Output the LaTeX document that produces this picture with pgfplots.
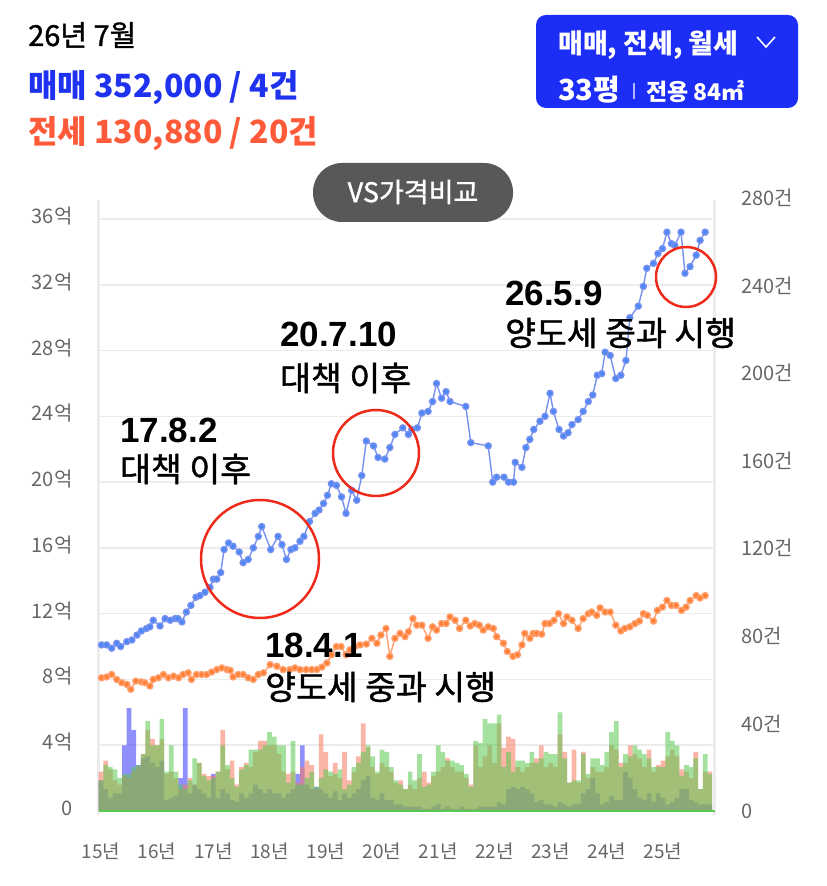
\documentclass[border=0pt]{standalone}
\usepackage{pgfplots}
\pgfplotsset{compat=1.18}
\usepackage{pgfplotstable}
\usepackage{fontspec}
\setmainfont{Noto Sans CJK KR}
\newfontfamily\kormed{Noto Sans CJK KR}[FakeBold=1.2]
\newfontfamily\numfont{Liberation Sans}
\definecolor{ttblue}{RGB}{31,50,240}
\definecolor{ttorange}{RGB}{255,91,59}
\definecolor{boxblue}{RGB}{28,45,245}
\definecolor{pillgray}{RGB}{88,88,88}
\definecolor{tickgray}{RGB}{102,102,102}
\definecolor{gridgray}{RGB}{236,236,236}
\definecolor{saleline}{RGB}{120,145,240}
\definecolor{salemark}{RGB}{75,135,245}
\definecolor{rentline}{RGB}{255,160,112}
\definecolor{rentmark}{RGB}{255,128,51}
\definecolor{barblue}{RGB}{70,70,250}
\definecolor{barsalmon}{RGB}{245,120,95}
\definecolor{bargreen}{RGB}{90,200,80}
\definecolor{circred}{RGB}{238,42,26}

\pgfplotstableread{
x v
2015.01 10.1
2015.10 10.1
2015.19 9.9
2015.28 10.2
2015.35 10.0
2015.46 10.3
2015.55 10.4
2015.64 10.7
2015.72 10.95
2015.81 11.1
2015.87 11.2
2015.93 11.6
2016.05 11.25
2016.14 11.7
2016.23 11.6
2016.32 11.7
2016.37 11.7
2016.44 11.5
2016.52 12.1
2016.60 12.5
2016.69 13.0
2016.76 13.1
2016.85 13.3
2016.94 13.6
2017.00 14.1
2017.06 14.1
2017.13 14.5
2017.19 15.9
2017.27 16.3
2017.35 16.1
2017.46 15.75
2017.53 15.1
2017.62 15.3
2017.71 16.0
2017.80 16.7
2017.86 17.3
2018.02 15.9
2018.15 16.7
2018.22 16.2
2018.30 15.3
2018.38 15.9
2018.45 16.0
2018.54 16.4
2018.61 16.7
2018.71 17.6
2018.81 18.1
2018.88 18.3
2018.96 18.7
2019.03 19.2
2019.10 19.9
2019.19 19.8
2019.28 19.1
2019.36 18.1
2019.46 19.5
2019.55 18.9
2019.64 20.4
2019.72 22.5
2019.85 22.2
2019.93 21.5
2020.05 21.4
2020.14 22.1
2020.23 22.9
2020.37 23.3
2020.47 22.9
2020.53 23.2
2020.63 23.3
2020.71 24.2
2020.82 24.3
2020.90 24.9
2020.97 26.0
2021.06 25.1
2021.14 25.5
2021.21 24.9
2021.49 24.6
2021.58 22.4
2021.89 22.2
2021.97 20.0
2022.04 20.3
2022.17 20.3
2022.25 20.0
2022.34 20.0
2022.37 21.2
2022.49 20.9
2022.56 22.1
2022.63 22.6
2022.70 23.2
2022.81 23.7
2022.90 24.0
2022.99 25.4
2023.05 24.3
2023.15 23.2
2023.23 22.8
2023.31 23.0
2023.38 23.5
2023.49 23.8
2023.58 24.3
2023.67 24.9
2023.75 25.3
2023.83 26.5
2023.91 26.6
2023.97 27.9
2024.06 27.7
2024.16 26.3
2024.25 26.5
2024.34 27.4
2024.41 30.0
2024.56 30.7
2024.65 31.9
2024.71 33.0
2024.83 33.3
2024.91 33.9
2024.99 34.2
2025.07 35.2
2025.15 34.5
2025.21 34.4
2025.32 35.2
2025.39 32.7
2025.48 33.1
2025.59 33.8
2025.66 34.7
2025.75 35.2
}\saledata

\pgfplotstableread{
x v
2015.01 8.1
2015.10 8.15
2015.19 8.3
2015.28 8.0
2015.37 7.8
2015.46 7.7
2015.53 7.4
2015.62 7.9
2015.72 7.85
2015.78 7.8
2015.87 7.6
2015.93 8.0
2016.02 8.1
2016.11 8.3
2016.20 8.1
2016.29 8.2
2016.38 8.1
2016.46 8.3
2016.55 8.4
2016.61 8.0
2016.70 8.3
2016.79 8.3
2016.88 8.3
2016.97 8.45
2017.06 8.6
2017.15 8.7
2017.24 8.6
2017.30 8.55
2017.35 8.15
2017.44 8.3
2017.53 8.3
2017.62 8.1
2017.71 8.0
2017.80 8.3
2017.89 8.4
2018.01 8.9
2018.13 8.8
2018.24 8.6
2018.36 8.6
2018.45 8.7
2018.54 8.6
2018.65 8.6
2018.75 8.6
2018.84 8.6
2018.93 8.75
2019.02 9.0
2019.10 9.5
2019.19 10.0
2019.27 10.0
2019.36 9.5
2019.43 9.8
2019.52 10.0
2019.61 10.1
2019.72 10.15
2019.82 10.5
2019.91 10.2
2019.98 10.7
2020.07 11.1
2020.14 9.4
2020.23 10.5
2020.32 10.8
2020.41 10.6
2020.47 10.9
2020.55 11.7
2020.62 11.3
2020.71 11.3
2020.82 10.5
2020.90 11.2
2020.97 11.0
2021.06 11.4
2021.14 11.4
2021.21 11.8
2021.30 11.6
2021.38 11.1
2021.49 11.6
2021.57 11.25
2021.65 11.4
2021.73 11.3
2021.80 11.0
2021.89 11.2
2021.98 11.1
2022.04 10.6
2022.16 10.2
2022.23 9.7
2022.33 9.4
2022.41 9.5
2022.49 10.1
2022.54 10.8
2022.63 10.5
2022.69 10.8
2022.75 10.8
2022.84 10.75
2022.90 11.4
2022.98 11.4
2023.06 11.6
2023.14 12.0
2023.23 11.4
2023.29 11.8
2023.38 11.6
2023.49 11.1
2023.58 11.7
2023.67 12.0
2023.73 12.1
2023.82 11.9
2023.88 12.35
2023.97 12.1
2024.06 12.1
2024.16 11.3
2024.25 10.95
2024.32 11.1
2024.41 11.2
2024.50 11.4
2024.58 11.55
2024.65 12.0
2024.72 11.9
2024.83 11.55
2024.90 12.2
2024.99 12.4
2025.07 12.8
2025.15 12.5
2025.23 12.5
2025.33 12.2
2025.41 12.4
2025.48 12.8
2025.59 13.1
2025.66 12.95
2025.75 13.1
}\rentdata

\pgfplotstableread{
i B S G
0 14 18 14
1 10 23 21
2 6 19 20
3 8 14 19
4 8 12 15
5 30 16 17
6 47 15 17
7 37 18 20
8 21 20 21
9 24 26 26
10 25 37 41
11 22 33 30
12 20 30 30
13 23 33 42
14 5 17 18
15 6 18 30
16 7 15 18
17 15 10 12
18 47 12 10
19 8 15 14
20 12 12 24
21 10 22 22
22 8 17 16
23 6 16 14
24 17 16 15
25 6 18 18
26 10 37 30
27 8 19 21
28 5 23 15
29 4 12 11
30 8 20 19
31 6 22 21
32 8 20 28
33 12 27 28
34 10 32 28
35 8 32 30
36 10 30 36
37 8 30 34
38 8 26 30
39 6 18 30
40 8 17 13
41 10 18 32
42 17 13 12
43 30 20 12
44 12 23 15
45 10 21 18
46 11 10 11
47 10 35 15
48 8 27 19
49 6 16 18
50 9 22 17
51 5 15 19
52 8 27 10
53 6 14 12
54 8 18 20
55 10 25 22
56 14 40 27
57 16 29 30
58 6 20 25
59 5 17 18
60 8 22 28
61 5 20 27
62 5 18 20
63 3 13 14
64 3 14 12
65 2 10 10
66 2 12 18
67 2 10 14
68 2 15 26
69 1 18 11
70 1 13 12
71 2 16 18
72 3 18 30
73 1 20 27
74 2 24 23
75 1 20 23
76 1 18 22
77 2 18 21
78 1 15 17
79 1 12 11
80 1 30 32
81 2 20 31
82 2 25 42
83 2 30 40
84 2 22 40
85 4 40 44
86 3 29 20
87 10 34 27
88 11 33 18
89 10 20 23
90 11 18 23
91 10 20 22
92 8 22 27
93 4 24 22
94 5 30 24
95 3 20 27
96 3 22 26
97 2 20 26
98 4 35 45
99 3 27 24
100 2 13 13
101 3 28 14
102 3 13 14
103 8 27 26
104 10 15 17
105 15 20 24
106 8 18 24
107 3 18 21
108 4 20 27
109 7 30 36
110 5 28 41
111 5 22 20
112 18 22 26
113 15 30 25
114 10 26 30
115 6 24 28
116 5 20 26
117 8 28 24
118 4 18 20
119 8 21 20
120 6 23 20
121 3 25 36
122 4 28 32
123 6 25 30
124 10 19 16
125 10 18 21
126 5 15 20
127 4 27 24
128 3 10 10
129 3 18 26
130 3 18 17
}\bardata

\begin{document}
\begin{tikzpicture}[x=1pt,y=1pt]
\path[use as bounding box] (0,0) rectangle (827,886);
% vertical frame lines
\draw[gridgray, line width=3] (98,71) -- (98,686);
\draw[gridgray, line width=3] (714,71) -- (714,686);

% left axis: prices
\begin{axis}[
  at={(98pt,75pt)}, anchor=south west,
  scale only axis, width=616pt, height=592pt,
  xmin=2014.947, xmax=2025.907, ymin=0, ymax=36,
  axis line style={draw=none},
  ytick={0,4,...,36},
  yticklabels={0,4억,8억,12억,16억,20억,24억,28억,32억,36억},
  xtick={2015,2016,...,2025},
  xticklabels={15년,16년,17년,18년,19년,20년,21년,22년,23년,24년,25년},
  major tick length=0pt,
  ymajorgrids, grid style={gridgray, line width=1.5pt},
  yticklabel style={font=\fontsize{20}{23}\selectfont, text=tickgray, anchor=east, xshift=-22pt, yshift=3pt},
  xticklabel style={font=\fontsize{19}{22}\selectfont, text=tickgray, anchor=north, yshift=-28pt},
  clip=false,
]
\addplot[saleline, line width=1.4pt, mark=*, mark size=3pt,
  mark options={fill=salemark, draw=none}] table[x=x,y=v]{\saledata};
\addplot[rentline, line width=1.4pt, mark=*, mark size=3pt,
  mark options={fill=rentmark, draw=none}] table[x=x,y=v]{\rentdata};
\end{axis}

% right axis: counts
\begin{axis}[
  at={(98pt,75pt)}, anchor=south west,
  scale only axis, width=616pt, height=613pt,
  xmin=2014.947, xmax=2025.907, ymin=0, ymax=280,
  hide x axis,
  axis y line*=right,
  axis line style={draw=none},
  ytick={0,40,...,280},
  yticklabels={0,40건,80건,120건,160건,200건,240건,280건},
  major tick length=0pt,
  yticklabel style={font=\fontsize{20}{23}\selectfont, text=tickgray, anchor=west, xshift=24pt},
  clip=false,
]
\addplot[ybar, bar width=0.0833, bar shift=0pt, fill=barblue, fill opacity=0.6, draw=none]
  table[x expr=2015+\thisrow{i}/12, y=B]{\bardata};
\addplot[ybar, bar width=0.0833, bar shift=0pt, fill=barsalmon, fill opacity=0.55, draw=none]
  table[x expr=2015+\thisrow{i}/12, y=S]{\bardata};
\addplot[ybar, bar width=0.0833, bar shift=0pt, fill=bargreen, fill opacity=0.55, draw=none]
  table[x expr=2015+\thisrow{i}/12, y=G]{\bardata};
\addplot[bargreen, line width=2pt] coordinates {(2014.96,0) (2025.93,0)};
\end{axis}

% header
\node[anchor=west, inner sep=0, font=\kormed\fontsize{29}{32}\selectfont] at (28,851) {26년 7월};
\node[anchor=west, inner sep=0, text=ttblue, font=\bfseries\fontsize{32}{36}\selectfont] at (28,798) {매매 352,000 / 4건};
\node[anchor=west, inner sep=0, text=ttorange, font=\bfseries\fontsize{32}{36}\selectfont] at (28,752) {전세 130,880 / 20건};

% blue box
\fill[boxblue, rounded corners=10pt] (536,778) rectangle (798,871);
\node[anchor=west, inner sep=0, text=white, font=\bfseries\fontsize{27}{30}\selectfont] at (558,841) {매매, 전세, 월세};
\draw[white, line width=1.6pt] (757,849) -- (766,839) -- (775,849);
\node[anchor=west, inner sep=0, text=white, font=\bfseries\fontsize{29}{32}\selectfont] at (558,796) {33평};
\draw[white!65!boxblue, line width=1.2pt] (634,787) -- (634,803);
\node[anchor=west, inner sep=0, text=white, font=\bfseries\fontsize{23}{26}\selectfont] at (646,794) {전용 84㎡};

% VS pill
\fill[pillgray, rounded corners=29pt] (313,664) rectangle (513,723);
\node[text=white, font=\kormed\fontsize{27}{30}\selectfont] at (413,694) {VS가격비교};

% annotations
\node[anchor=west, inner sep=0, font=\numfont\bfseries\fontsize{35}{38}\selectfont] at (120,456) {17.8.2};
\node[anchor=west, inner sep=0, font=\kormed\fontsize{33.5}{36}\selectfont] at (120,417) {대책 이후};
\node[anchor=west, inner sep=0, font=\numfont\bfseries\fontsize{35}{38}\selectfont] at (280,552) {20.7.10};
\node[anchor=west, inner sep=0, font=\kormed\fontsize{33.5}{36}\selectfont] at (280,508) {대책 이후};
\node[anchor=west, inner sep=0, font=\numfont\bfseries\fontsize{35}{38}\selectfont] at (505,593) {26.5.9};
\node[anchor=west, inner sep=0, font=\kormed\fontsize{33.5}{36}\selectfont] at (505,553) {양도세 중과 시행};
\node[anchor=west, inner sep=0, font=\numfont\bfseries\fontsize{35}{38}\selectfont] at (265,241) {18.4.1};
\node[anchor=west, inner sep=0, font=\kormed\fontsize{33.5}{36}\selectfont] at (265,199) {양도세 중과 시행};

% circles
\draw[circred, line width=2.5pt] (260,327) circle (59);
\draw[circred, line width=2.5pt] (376,433) circle (43);
\draw[circred, line width=2.5pt] (686,609) circle (30);
\end{tikzpicture}
\end{document}
